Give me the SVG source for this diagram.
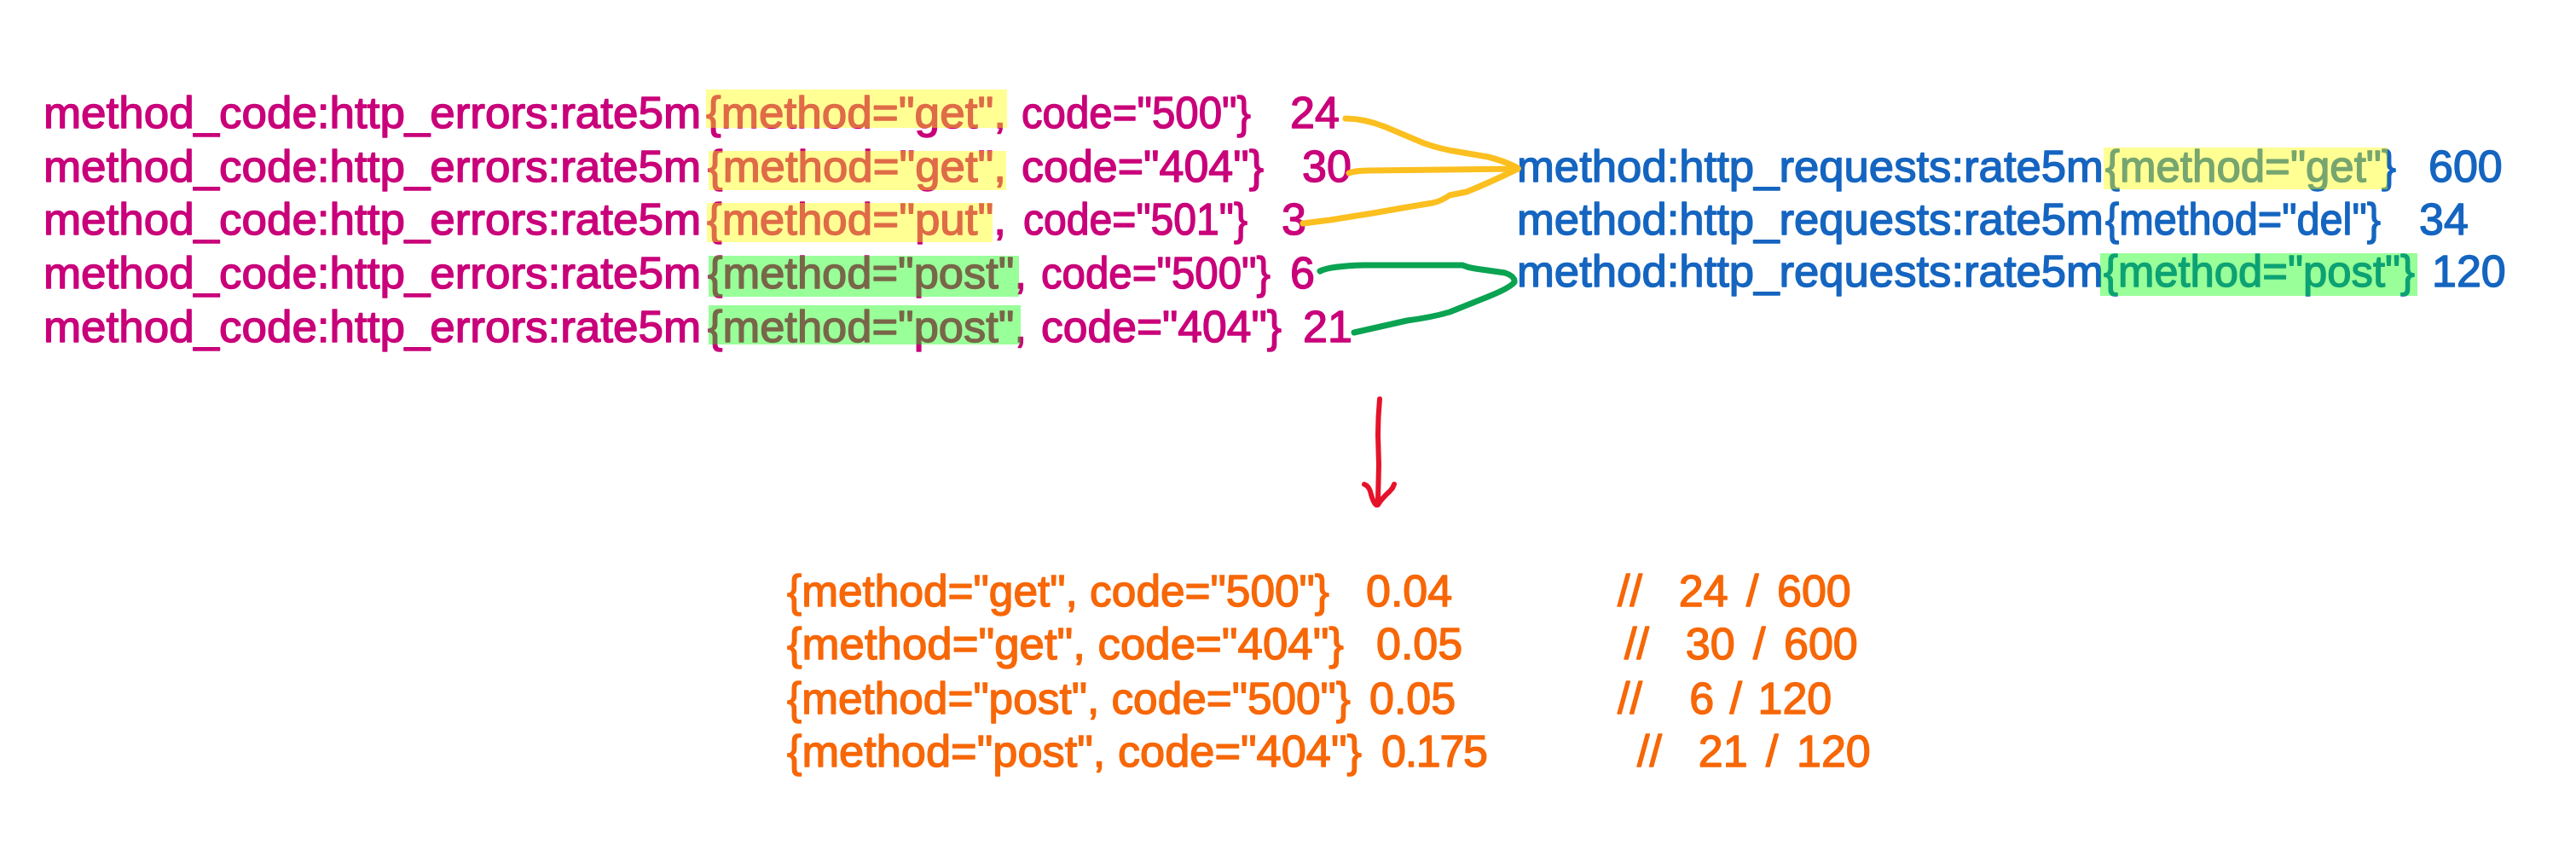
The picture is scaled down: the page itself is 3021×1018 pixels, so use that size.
<svg xmlns="http://www.w3.org/2000/svg" width="3021" height="1018" viewBox="0 0 3021 1018">
<style>
text{font-family:"Liberation Sans","Arial",sans-serif;font-size:52px;stroke-width:1.4px;stroke-linejoin:round;white-space:pre}
.pk{fill:#c9007a;stroke:#c9007a}
.bl{fill:#1565c0;stroke:#1565c0}
.or{fill:#f76707;stroke:#f76707}
.cm{word-spacing:7px}
.hy{fill:#ffff00;opacity:.42}
.hg{fill:#00ff00;opacity:.4}
.c{fill:none;stroke-width:7;stroke-linecap:round;stroke-linejoin:round}
.cy{stroke:#fbbf1f}
.cg{stroke:#0aa352}
.cr{stroke:#e5132a;stroke-width:6}
</style>
<rect width="3021" height="1018" fill="#ffffff"/>

<g id="err-get-500">
<text class="pk" x="51" y="150" textLength="771" lengthAdjust="spacingAndGlyphs">method_code:http_errors:rate5m</text>
<text class="pk" x="828" y="150" textLength="352" lengthAdjust="spacingAndGlyphs">{method="get",</text>
<text class="pk" x="1198" y="150" textLength="269" lengthAdjust="spacingAndGlyphs">code="500"}</text>
<text class="pk" x="1513" y="150">24</text>
<rect class="hy" x="828" y="105" width="353" height="45"/>
</g>
<g id="err-get-404">
<text class="pk" x="51" y="213" textLength="771" lengthAdjust="spacingAndGlyphs">method_code:http_errors:rate5m</text>
<text class="pk" x="830" y="213" textLength="350" lengthAdjust="spacingAndGlyphs">{method="get",</text>
<text class="pk" x="1198" y="213" textLength="284" lengthAdjust="spacingAndGlyphs">code="404"}</text>
<text class="pk" x="1527" y="213">30</text>
<rect class="hy" x="831" y="177" width="349" height="46"/>
</g>
<g id="err-put-501">
<text class="pk" x="51" y="275" textLength="771" lengthAdjust="spacingAndGlyphs">method_code:http_errors:rate5m</text>
<text class="pk" x="829" y="275" textLength="351" lengthAdjust="spacingAndGlyphs">{method="put",</text>
<text class="pk" x="1200" y="275" textLength="263" lengthAdjust="spacingAndGlyphs">code="501"}</text>
<text class="pk" x="1503" y="275">3</text>
<rect class="hy" x="829" y="238" width="335" height="46"/>
</g>
<g id="err-post-500">
<text class="pk" x="51" y="338" textLength="771" lengthAdjust="spacingAndGlyphs">method_code:http_errors:rate5m</text>
<text class="pk" x="830" y="338" textLength="374" lengthAdjust="spacingAndGlyphs">{method="post",</text>
<text class="pk" x="1221" y="338" textLength="269" lengthAdjust="spacingAndGlyphs">code="500"}</text>
<text class="pk" x="1513" y="338">6</text>
<rect class="hg" x="831" y="300" width="364" height="48"/>
</g>
<g id="err-post-404">
<text class="pk" x="51" y="401" textLength="771" lengthAdjust="spacingAndGlyphs">method_code:http_errors:rate5m</text>
<text class="pk" x="830" y="401" textLength="374" lengthAdjust="spacingAndGlyphs">{method="post",</text>
<text class="pk" x="1221" y="401" textLength="282" lengthAdjust="spacingAndGlyphs">code="404"}</text>
<text class="pk" x="1528" y="401">21</text>
<rect class="hg" x="831" y="358" width="366" height="46"/>
</g>

<g id="req-get">
<text class="bl" x="1779" y="213" textLength="688" lengthAdjust="spacingAndGlyphs">method:http_requests:rate5m</text>
<text class="bl" x="2469" y="213" textLength="341" lengthAdjust="spacingAndGlyphs">{method="get"}</text>
<text class="bl" x="2848" y="213">600</text>
<rect class="hy" x="2467" y="173" width="333" height="49"/>
</g>
<g id="req-del">
<text class="bl" x="1779" y="275" textLength="688" lengthAdjust="spacingAndGlyphs">method:http_requests:rate5m</text>
<text class="bl" x="2469" y="275" textLength="323" lengthAdjust="spacingAndGlyphs">{method="del"}</text>
<text class="bl" x="2837" y="275">34</text>
</g>
<g id="req-post">
<text class="bl" x="1779" y="336" textLength="688" lengthAdjust="spacingAndGlyphs">method:http_requests:rate5m</text>
<text class="bl" x="2467" y="336" textLength="365" lengthAdjust="spacingAndGlyphs">{method="post"}</text>
<text class="bl" x="2852" y="336">120</text>
<rect class="hg" x="2463" y="297" width="372" height="50"/>
</g>

<g id="result-get-500">
<text class="or" x="923" y="711" textLength="636" lengthAdjust="spacingAndGlyphs">{method="get", code="500"}</text>
<text class="or" x="1602" y="711">0.04</text>
<text class="or cm" x="1897" y="711">//  24 / 600</text>
</g>
<g id="result-get-404">
<text class="or" x="923" y="773" textLength="653" lengthAdjust="spacingAndGlyphs">{method="get", code="404"}</text>
<text class="or" x="1614" y="773">0.05</text>
<text class="or cm" x="1905" y="773">//  30 / 600</text>
</g>
<g id="result-post-500">
<text class="or" x="923" y="837" textLength="661" lengthAdjust="spacingAndGlyphs">{method="post", code="500"}</text>
<text class="or" x="1606" y="837">0.05</text>
<text class="or" x="1897" y="837" style="word-spacing:4px">//   6 / 120</text>
</g>
<g id="result-post-404">
<text class="or" x="923" y="899" textLength="674" lengthAdjust="spacingAndGlyphs">{method="post", code="404"}</text>
<text class="or" x="1620" y="899" textLength="125" lengthAdjust="spacing">0.175</text>
<text class="or cm" x="1920" y="899">//  21 / 120</text>
</g>

<g id="connectors">
<path class="c cy" d="M1578,139 Q1600,139 1625,149 L1670,168 Q1690,175 1710,178 L1745,184 Q1765,189 1780,197"/>
<path class="c cy" d="M1582,203 Q1590,200 1605,200 L1780,198"/>
<path class="c cy" d="M1528,262 L1560,258 L1610,250 L1650,243 L1680,238 Q1690,236 1700,229 L1720,225 Q1745,215 1780,198"/>
<path class="c cg" d="M1548,318 Q1560,312 1600,311 L1715,311 Q1722,314 1730,315 L1765,320 Q1777,324 1776,331 Q1770,338 1745,348 L1700,366 Q1680,372 1650,376 L1588,390"/>
<path class="c cr" d="M1618,468 Q1616,490 1616,510 L1617,545 L1616,587"/>
<path class="c cr" d="M1600,568 Q1606,570 1608,580 Q1612,594 1616,592 Q1620,585 1630,576 Q1634,572 1635,568"/>
</g>
</svg>
